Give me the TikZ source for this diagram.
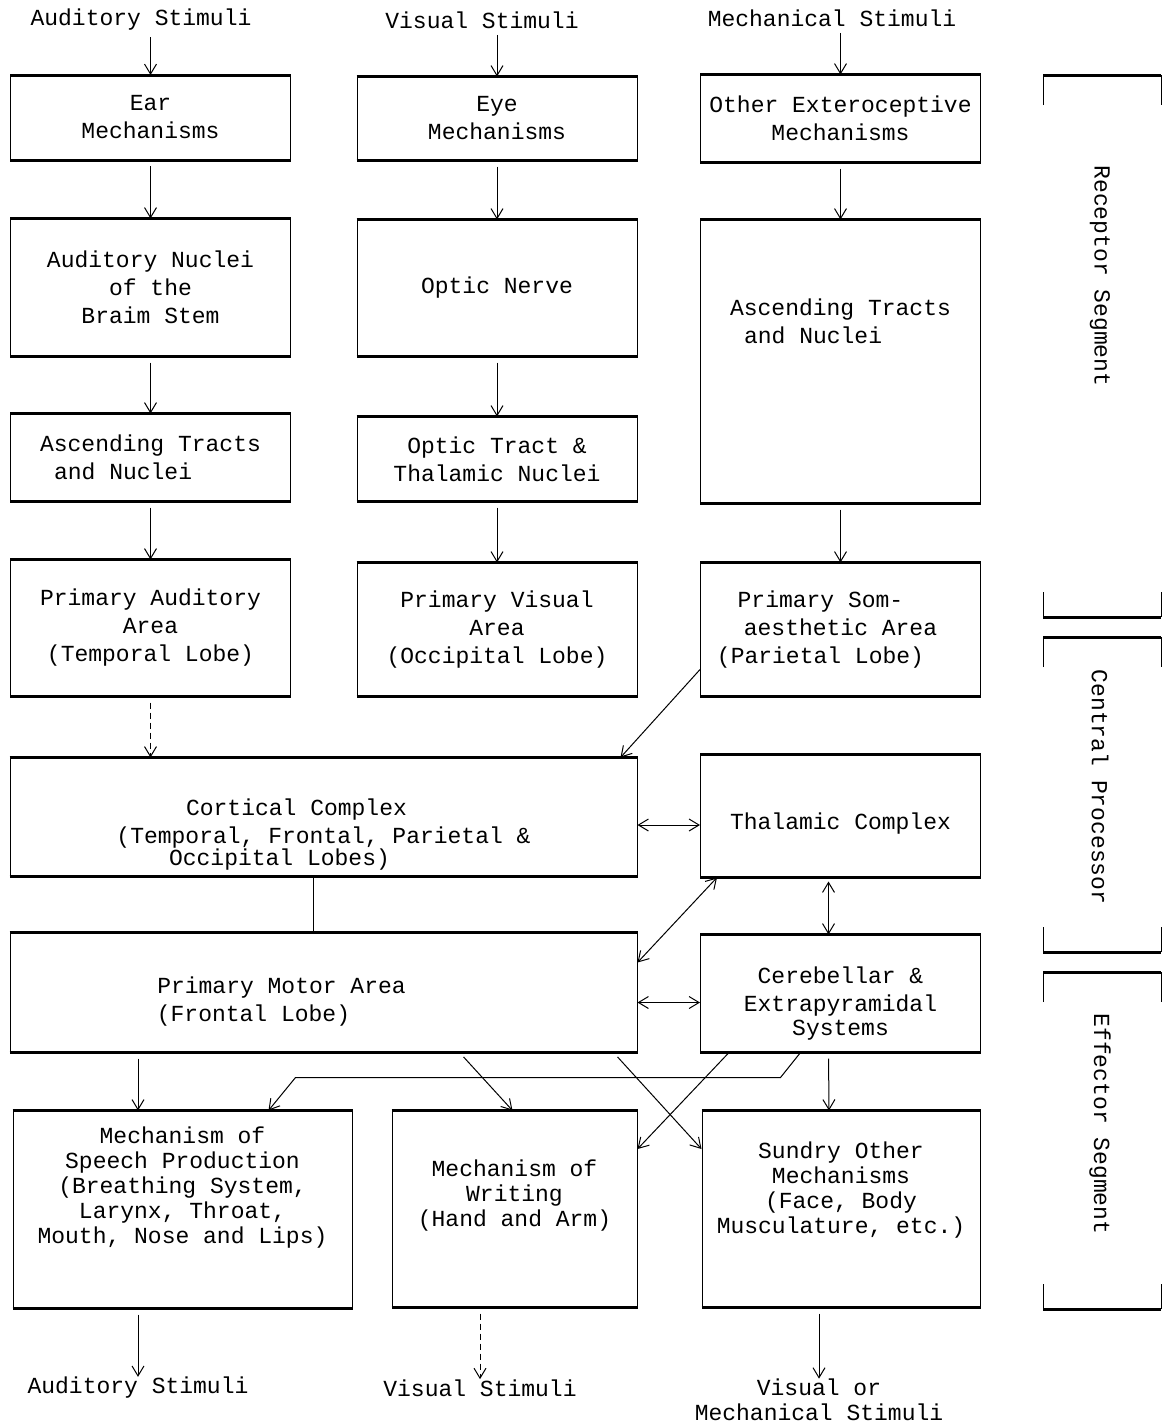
\documentclass[tikz,border=0pt]{standalone}
\usepackage{fontspec}
\setmainfont{Liberation Mono}
\usetikzlibrary{arrows.meta}

\tikzset{
  blk/.style={draw, line width=0.5pt, inner sep=0pt, minimum width=140pt, align=center, font=\fontsize{11.5}{14}\selectfont},
  low/.style={blk, font=\fontsize{11.5}{12.5}\selectfont},
  lbl/.style={align=center, inner sep=0pt, font=\fontsize{11.5}{12.5}\selectfont},
  rim/.style={line width=1.5pt},
  flow/.style={->, line width=0.5pt, shorten <=3pt},
  link/.style={line width=0.5pt},
}

\begin{document}
\begin{tikzpicture}[x=0.5pt, y=-0.5pt, >={Straight Barb[length=5pt,width=6pt]}]
\useasboundingbox (0,0) rectangle (1169,1424);

% stimuli in
\node[lbl] (audin) at (141,20) {Auditory Stimuli};
\node[lbl] (visin) at (482,20) {Visual Stimuli};
\node[lbl] (mechin) at (832,18) {Mechanical Stimuli};

% receptor segment
\node[blk, minimum height=42pt] (ear) at (150.5,117.5) {Ear\\Mechanisms};
\node[blk, minimum height=41.5pt] (eye) at (497,118.5) {Eye\\Mechanisms};
\node[blk, minimum height=43.5pt] (oth) at (840.5,118.5) {Other Exteroceptive\\Mechanisms};
\node[blk, minimum height=68.5pt] (audn) at (150.5,287.5) {Auditory Nuclei\\of the\\Braim Stem};
\node[blk, minimum height=68pt] (optn) at (497,288) {Optic Nerve};
\node[blk, align=left, minimum height=141.5pt] (asc3) at (840.5,361.5) {Ascending Tracts\\\hspace*{7pt}and Nuclei\rule[-40pt]{0pt}{0pt}};
\node[blk, align=left, minimum height=43.5pt] (asc1) at (150.5,457.5) {Ascending Tracts\\\hspace*{7pt}and Nuclei};
\node[blk, minimum height=42pt] (optt) at (497,459) {Optic Tract \&\\Thalamic Nuclei};
\node[blk, minimum height=68pt] (paud) at (150.5,628) {Primary Auditory\\Area\\(Temporal Lobe)};
\node[blk, minimum height=66.5pt] (pvis) at (497,629.5) {Primary Visual\\Area\\(Occipital Lobe)};
\node[blk, minimum height=66.5pt] (psom) at (840.5,629.5) {Primary Som-\hspace*{20pt}\\aesthetic Area\hspace*{20pt}\\(Parietal Lobe)\hspace*{20pt}};

% central processor
\node[blk, minimum width=313.5pt, minimum height=59pt] (cort) at (323.5,817) {\rule{0pt}{26pt}Cortical Complex\hspace*{27pt}\\(Temporal, Frontal, Parietal \&\hspace*{10pt}\\[-3pt]Occipital Lobes)\hspace*{44pt}};
\node[blk, minimum height=61pt] (thal) at (840.5,816) {\rule{0pt}{16pt}Thalamic Complex};

% effector segment
\node[blk, minimum width=313.5pt, minimum height=59.5pt] (motor) at (323.5,992.5) {\rule{0pt}{17pt}Primary Motor Area\hspace*{42pt}\\(Frontal Lobe)\hspace*{70pt}};
\node[blk, minimum height=58.5pt] (cereb) at (840.5,993.5) {\rule{0pt}{18pt}Cerebellar \&\\Extrapyramidal\\[-2pt]Systems};
\node[low, minimum width=169.5pt, minimum height=98.5pt] (speech) at (182.5,1209.5) {Mechanism of\\Speech Production\\(Breathing System,\\Larynx, Throat,\\Mouth, Nose and Lips)\rule[-24pt]{0pt}{0pt}};
\node[low, minimum width=122.5pt, minimum height=98pt] (writ) at (514.5,1209) {Mechanism of\\Writing\\(Hand and Arm)\rule[-16pt]{0pt}{0pt}};
\node[low, minimum width=139pt, minimum height=98pt] (sundry) at (841,1209) {Sundry Other\\Mechanisms\\(Face, Body\\Musculature, etc.)\rule[-21pt]{0pt}{0pt}};

% stimuli out
\node[lbl] (audout) at (138,1388) {Auditory Stimuli};
\node[lbl] (visout) at (480,1388) {Visual Stimuli};
\node[lbl] (mechout) at (819,1400) {Visual or\\Mechanical Stimuli};

% heavy top and bottom rules of the boxes
\foreach \n in {ear,eye,oth,audn,optn,asc3,asc1,optt,paud,pvis,psom,cort,thal,motor,cereb,speech,writ,sundry}
  \draw[rim] (\n.north west) -- (\n.north east) (\n.south west) -- (\n.south east);

% inputs and the three chains
\draw[flow] (ear.north |- audin.south) -- (ear);
\draw[flow] (eye.north |- visin.south) -- (eye);
\draw[flow] (oth.north |- mechin.south) -- (oth);
\foreach \a/\b in {ear/audn, eye/optn, oth/asc3, audn/asc1, optn/optt, asc1/paud, optt/pvis, asc3/psom}
  \draw[flow] (\a) -- (\b);
\draw[flow, densely dashed] (paud) -- (paud.south |- cort.north);
\draw[->, link] ([yshift=-20pt]psom.west) -- ([xshift=-8.5pt]cort.north east);

% central processor links
\draw[<->, link] ([yshift=-4pt]cort.east) -- ([yshift=-4pt]cort.east -| thal.west);
\draw[<->, link, shorten <=2pt] ([xshift=-6pt]thal.south) -- ([xshift=-6pt]cereb.north);
\draw[link] ([xshift=-5pt]cort.south) -- ([xshift=-5pt]motor.north);
\draw[<->, link] ([yshift=15pt]motor.east) -- ([xshift=8.5pt]thal.south west);
\draw[<->, link] ([yshift=-5pt]motor.east) -- ([yshift=-5pt]motor.east -| cereb.west);

% to the effectors
\draw[flow] (motor.south -| audout.north) -- (speech.north -| audout.north);
\draw[->, link] ([xshift=-20pt]cereb.south) -- ++(-20,25) -- ++(-485,0) -- ([xshift=43pt]speech.north);
\draw[flow] ([xshift=68pt]motor.south) -- ([xshift=-1pt]writ.north);
\draw[flow] ([xshift=-12pt]motor.south east) -- ([yshift=30pt]sundry.west);
\draw[->, link] ([xshift=14.5pt]cereb.south west) -- ([yshift=30pt]writ.east);
\draw[flow] ([xshift=-6pt]cereb.south) -- ([xshift=-6pt]sundry.north);

% outputs
\draw[flow] (speech.south -| audout.north) -- (audout.north);
\draw[flow, densely dashed] (writ.south -| visout.north) -- (visout.north);
\draw[flow] (sundry.south -| mechout.north) -- (mechout.north);

% segment brackets
\foreach \t/\b in {75/617, 637/952, 972/1309} {
  \draw[link] (1043,\t+30) -- (1043,\t) (1161,\t) -- (1161,\t+30);
  \draw[link] (1043,\b-25) -- (1043,\b) (1161,\b) -- (1161,\b-25);
  \draw[rim] (1043,\t) -- (1161,\t) (1043,\b) -- (1161,\b);
}
\node[lbl, rotate=-90] (rec) at (1100,276) {Receptor Segment};
\node[lbl, rotate=-90] (cen) at (1100,787) {Central Processor};
\node[lbl, rotate=-90] (eff) at (1100,1124) {Effector Segment};
\end{tikzpicture}
\end{document}
